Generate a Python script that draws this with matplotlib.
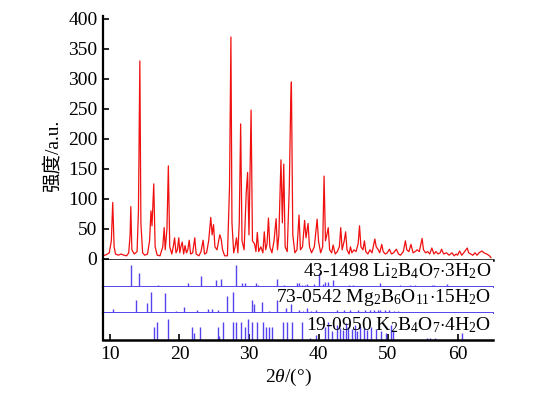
import matplotlib as mpl
import matplotlib.pyplot as plt

mpl.rcParams['font.family'] = ['Liberation Serif', 'Noto Sans CJK SC']
mpl.rcParams['mathtext.fontset'] = 'custom'
mpl.rcParams['mathtext.rm'] = 'Liberation Serif'
mpl.rcParams['mathtext.it'] = 'Liberation Serif:italic'

two_theta = [9.0, 9.5, 9.9, 10.2, 10.4, 10.6, 10.8, 11.2, 11.6, 12.0, 12.4, 12.7, 12.9, 13.0, 13.15,
             13.5, 13.9, 14.1, 14.3, 14.45, 14.7, 15.0, 15.4, 15.7, 15.9, 16.05, 16.3, 16.5, 16.8,
             17.2, 17.6, 17.8, 17.95, 18.2, 18.4, 18.6, 18.9, 19.1, 19.3, 19.5, 19.7, 19.9, 20.05,
             20.2, 20.4, 20.6, 20.8, 21.0, 21.2, 21.4, 21.6, 21.9, 22.2, 22.4, 22.8, 23.1, 23.4,
             23.6, 23.9, 24.2, 24.5, 24.7, 24.9, 25.1, 25.4, 25.8, 26.0, 26.2, 26.5, 26.9, 27.2,
             27.4, 27.55, 27.8, 28.0, 28.2, 28.4, 28.6, 28.8, 29.0, 29.3, 29.6, 29.8, 30.0, 30.3,
             30.5, 30.8, 31.0, 31.2, 31.4, 31.7, 32.0, 32.2, 32.4, 32.6, 32.8, 33.0, 33.3, 33.6,
             33.9, 34.1, 34.3, 34.6, 34.8, 35.0, 35.2, 35.5, 35.8, 36.0, 36.1, 36.3, 36.6, 36.9,
             37.2, 37.4, 37.7, 38.0, 38.2, 38.5, 38.7, 39.0, 39.4, 39.8, 40.0, 40.3, 40.6, 40.8,
             41.0, 41.2, 41.4, 41.6, 41.9, 42.1, 42.4, 42.7, 43.0, 43.2, 43.4, 43.7, 43.9, 44.1,
             44.4, 44.6, 44.8, 45.1, 45.4, 45.7, 45.9, 46.1, 46.4, 46.6, 46.8, 47.1, 47.4, 47.7,
             48.1, 48.3, 48.6, 48.8, 49.1, 49.3, 49.6, 49.9, 50.2, 50.5, 50.8, 51.2, 51.5, 51.8,
             52.2, 52.5, 52.7, 53.0, 53.3, 53.6, 53.9, 54.2, 54.5, 54.9, 55.1, 55.4, 55.7, 56.0,
             56.3, 56.6, 56.9, 57.2, 57.5, 57.7, 58.0, 58.4, 58.8, 59.2, 59.5, 59.8, 60.0, 60.3,
             60.6, 60.9, 61.2, 61.4, 61.6, 61.9, 62.2, 62.5, 62.8, 63.1, 63.5, 63.8, 64.2, 64.6, 64.8]
counts = [5, 7, 10, 30, 94, 20, 8, 6, 8, 6, 5, 10, 40, 87, 15,
          8, 12, 80, 330, 60, 10, 6, 8, 30, 80, 55, 125, 20, 6,
          5, 20, 52, 15, 50, 155, 20, 8, 20, 35, 10, 15, 35, 10,
          20, 28, 8, 22, 10, 15, 31, 8, 10, 35, 8, 5, 12, 31,
          8, 10, 30, 69, 40, 57, 20, 15, 40, 33, 15, 5, 5, 120,
          370, 60, 10, 20, 35, 10, 60, 225, 30, 15, 110, 144, 40, 248,
          30, 25, 12, 44, 12, 20, 10, 45, 15, 25, 68, 20, 10, 30,
          67, 15, 40, 165, 60, 158, 20, 12, 120, 260, 295, 40, 10, 15,
          73, 15, 20, 64, 35, 59, 20, 10, 20, 66, 30, 10, 20, 138,
          30, 40, 52, 15, 10, 23, 8, 12, 20, 52, 15, 30, 45, 15,
          8, 20, 10, 15, 12, 25, 55, 20, 15, 30, 12, 8, 15, 10,
          33, 20, 15, 10, 24, 12, 8, 10, 16, 8, 10, 16, 8, 6,
          12, 30, 15, 12, 24, 10, 12, 15, 12, 34, 15, 10, 12, 8,
          18, 8, 12, 8, 10, 16, 8, 10, 6, 10, 5, 8, 6, 13,
          6, 10, 15, 18, 10, 8, 6, 10, 6, 10, 13, 10, 8, 5, 2]

# reference cards: line positions and relative intensities
li_pos = [13.0, 14.2, 16.9, 21.2, 23.1, 25.2, 26.0, 28.2, 29.0, 29.4, 31.0, 31.3, 34.0, 35.1,
          36.9, 37.2, 37.6, 38.1, 38.4, 39.3, 40.1, 40.6, 41.0, 41.3, 42.1, 44.4, 45.0, 48.9,
          51.7, 53.2, 53.9, 56.3, 56.6, 58.5]
li_int = [100, 65, 10, 20, 50, 30, 35, 100, 20, 20, 20, 10, 34, 10,
          20, 20, 10, 8, 12, 12, 62, 15, 23, 23, 30, 8, 10, 20,
          10, 8, 8, 10, 10, 12]

mg_pos = [10.4, 13.7, 15.4, 15.9, 17.9, 19.5, 20.7, 22.5, 24.1, 24.7, 25.6, 26.8, 27.7, 30.5,
          30.7, 31.9, 32.9, 34.0, 35.3, 36.0, 37.2, 37.7, 38.4, 38.9, 39.6, 42.6, 43.6, 44.5,
          45.7, 46.7, 47.4, 48.0, 48.5, 48.9, 49.6, 50.2, 50.8, 51.4]
mg_int = [19, 60, 48, 100, 92, 11, 29, 16, 19, 19, 16, 80, 97, 60,
          40, 52, 11, 60, 24, 40, 16, 11, 24, 8, 12, 12, 12, 12,
          14, 12, 12, 14, 14, 16, 14, 12, 10, 10]

k_pos = [16.4, 16.7, 18.3, 21.8, 22.1, 22.9, 25.5, 25.7, 26.2, 27.7, 28.1, 28.8, 29.4, 29.9,
         30.5, 31.1, 32.0, 32.5, 32.9, 33.3, 34.9, 35.5, 36.2, 37.6, 38.8, 39.7, 41.0, 41.3,
         41.9, 42.6, 43.1, 43.5, 43.9, 44.3, 44.8, 45.2, 45.6, 46.0, 46.5, 47.0, 47.6, 48.3,
         49.0, 49.7, 50.4, 50.7, 55.6, 56.0, 56.7, 60.7]
k_int = [58, 80, 97, 58, 30, 57, 58, 18, 80, 80, 80, 80, 58, 97,
         80, 80, 80, 58, 58, 58, 80, 80, 80, 80, 8, 23, 60, 80,
         40, 70, 55, 45, 75, 60, 50, 70, 40, 65, 55, 45, 60, 50,
         40, 30, 70, 45, 8, 8, 8, 30]

card_labels = ['43-1498 Li$_2$B$_4$O$_7$$\\cdot$3H$_2$O',
               '73-0542 Mg$_2$B$_6$O$_{11}$$\\cdot$15H$_2$O',
               '19-0950 K$_2$B$_4$O$_7$$\\cdot$4H$_2$O']

red = '#f01010'
blue = '#5544ee'

W, H = 556, 396
fig = plt.figure(figsize=(W / 100, H / 100), dpi=100)


def box(top, bottom):
    return [103 / W, 1 - bottom / H, (493 - 103) / W, (bottom - top) / H]


ax = fig.add_axes(box(16, 260))
ax.plot(two_theta, counts, color=red, lw=0.9)
ax.set_xlim(9, 65.1)
ax.set_ylim(-2, 405)
ax.set_yticks(range(0, 401, 50))
ax.spines['top'].set_visible(False)
ax.spines['right'].set_visible(False)
ax.spines['left'].set_linewidth(1.6)
ax.spines['bottom'].set_linewidth(1.8)
ax.tick_params(axis='y', direction='in', length=4, width=1.2, labelsize=14, pad=4)
ax.tick_params(axis='x', bottom=False, labelbottom=False)
fig.text(53 / W, 1 - 156 / H, '强度/a.u.', rotation=90, ha='center', va='center', fontsize=14)

panels = [(260, 287, li_pos, li_int), (287, 313, mg_pos, mg_int), (313, 340, k_pos, k_int)]
label_y = [271.5, 298, 325]
for i, (top, bottom, pos, inten) in enumerate(panels):
    pa = fig.add_axes(box(top, bottom), sharex=ax)
    pa.vlines(pos, 0, inten, color=blue, lw=1.0)
    pa.set_ylim(0, 122)
    pa.set_yticks([])
    pa.spines['top'].set_visible(False)
    pa.spines['right'].set_visible(False)
    pa.spines['left'].set_linewidth(1.6)
    if i < 2:
        pa.spines['bottom'].set_color(blue)
        pa.spines['bottom'].set_linewidth(1.4)
        pa.tick_params(axis='x', bottom=False, labelbottom=False)
    else:
        pa.spines['bottom'].set_linewidth(1.8)
        pa.set_xticks(range(10, 61, 10))
        pa.tick_params(axis='x', direction='in', length=4, width=1.2, labelsize=14, pad=4)
    fig.text(491 / W, 1 - label_y[i] / H, card_labels[i], ha='right', va='center', fontsize=14)

fig.text(288 / W, 1 - 377 / H, '2$\\theta$/(°)', ha='center', va='center', fontsize=14)

fig.savefig('out.png', dpi=100)
